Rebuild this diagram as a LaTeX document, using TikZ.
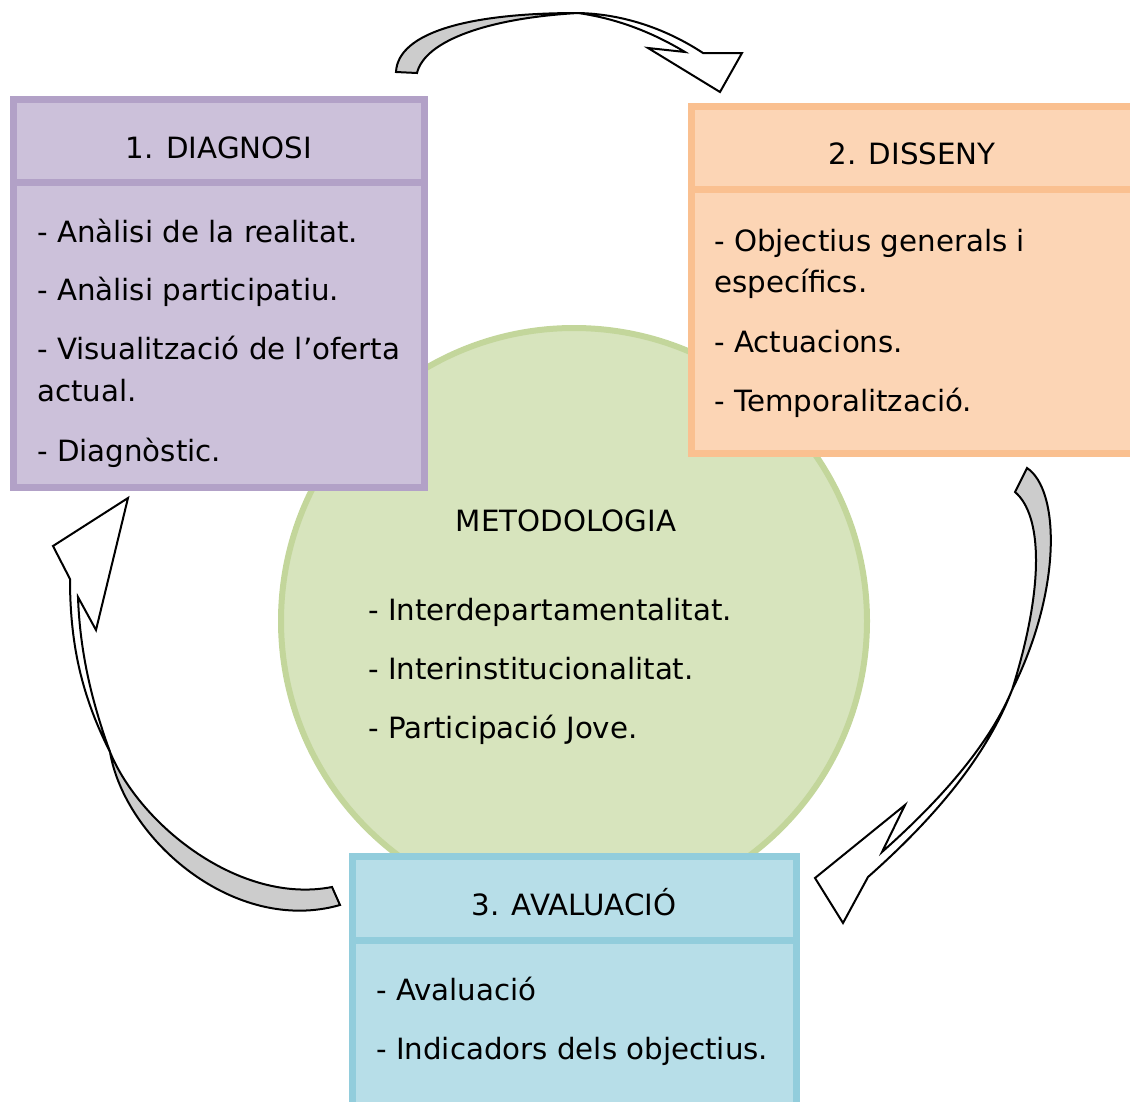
\documentclass[tikz,border=0pt]{standalone}
\usepackage{fontspec}
\setmainfont{DejaVu Sans}

\definecolor{lilaline}{HTML}{B2A1C7}
\definecolor{lilafill}{HTML}{CCC1DA}
\definecolor{taronjaline}{HTML}{FAC090}
\definecolor{taronjafill}{HTML}{FCD5B5}
\definecolor{blauline}{HTML}{92CDDC}
\definecolor{blaufill}{HTML}{B7DEE8}
\definecolor{verdline}{HTML}{C3D69B}
\definecolor{verdfill}{HTML}{D7E4BD}
\definecolor{fletxagris}{HTML}{CCCCCC}

\tikzset{
    capsa/.style={line width=7pt},
    titol/.style={anchor=base, inner sep=0pt, font=\fontsize{29.3}{35}\selectfont},
    punt/.style={anchor=base west, inner sep=0pt, font=\fontsize{29.3}{35}\selectfont},
    fletxa/.style={draw=black, line width=2pt, line join=miter},
}

\begin{document}
\begin{tikzpicture}[x=1pt,y=-1pt]
    \useasboundingbox (0,0) rectangle (1130,1101);

    % cercle central
    \draw [line width=6pt,draw=verdline,fill=verdfill] (574,621) circle (293);
    \node [titol] (metod) at (566,531) {METODOLOGIA};
    \foreach \yy/\txt [count=\i] in {620/{- Interdepartamentalitat.},
                                     679/{- Interinstitucionalitat.},
                                     738/{- Participació Jove.}} {
        \node [punt] (metod-\i) at (368,\yy) {\txt};
    }

    % 1. diagnosi
    \draw [capsa,draw=lilaline,fill=lilafill] (13.5,99.5) rectangle (424.5,182);
    \draw [capsa,draw=lilaline,fill=lilafill] (13.5,182) rectangle (424.5,487.5);
    \node [titol] (diag) at (219,158) {1. DIAGNOSI};
    \foreach \yy/\txt [count=\i] in {242/{- Anàlisi de la realitat.},
                                     300/{- Anàlisi participatiu.},
                                     359/{- Visualització de l’oferta},
                                     401/{actual.},
                                     461/{- Diagnòstic.}} {
        \node [punt] (diag-\i) at (37,\yy) {\txt};
    }

    % 2. disseny
    \draw [capsa,draw=taronjaline,fill=taronjafill] (691.5,106.5) rectangle (1140,189);
    \draw [capsa,draw=taronjaline,fill=taronjafill] (691.5,189) rectangle (1140,453.5);
    \node [titol] (diss) at (912,164) {2. DISSENY};
    \foreach \yy/\txt [count=\i] in {251/{- Objectius generals i},
                                     292/{específics.},
                                     352/{- Actuacions.},
                                     411/{- Temporalització.}} {
        \node [punt] (diss-\i) at (714,\yy) {\txt};
    }

    % 3. avaluacio
    \draw [capsa,draw=blauline,fill=blaufill] (352.5,856.5) rectangle (796.5,940);
    \draw [capsa,draw=blauline,fill=blaufill] (352.5,940) rectangle (796.5,1110);
    \node [titol] (aval) at (574,915) {3. AVALUACIÓ};
    \foreach \yy/\txt [count=\i] in {1000/{- Avaluació},
                                     1059/{- Indicadors dels objectius.}} {
        \node [punt] (aval-\i) at (376,\yy) {\txt};
    }

    % fletxa de dalt
    \coordinate (gir1) at (578,13);
    \draw [fletxa,fill=fletxagris] (396,72) .. controls (398,32) and (470,13) .. (gir1)
        .. controls (490,18) and (425,40) .. (417,73) -- cycle;
    \draw [fletxa,fill=white] (gir1) .. controls (625,14) and (668,30) .. (703,53)
        -- (742,53) -- (720,92) -- (648,48) -- (685,52)
        .. controls (655,34) and (620,19) .. (gir1) -- cycle;

    % fletxa de la dreta
    \coordinate (gir2) at (1012,690);
    \draw [fletxa,fill=fletxagris] (1027,468) .. controls (1060,490) and (1062,590) .. (gir2)
        .. controls (1045,585) and (1042,515) .. (1015,492) -- cycle;
    \draw [fletxa,fill=white] (gir2) .. controls (985,760) and (930,822) .. (868,877)
        -- (843,923) -- (815,878) -- (905,805) -- (882,852)
        .. controls (935,805) and (988,748) .. (gir2) -- cycle;

    % fletxa de l'esquerra
    \coordinate (gir3) at (110,752);
    \draw [fletxa,fill=fletxagris] (340,905) .. controls (235,935) and (125,840) .. (gir3)
        .. controls (140,825) and (240,905) .. (332,887) -- cycle;
    \draw [fletxa,fill=white] (gir3) .. controls (84,700) and (70,650) .. (70,579)
        -- (53,546) -- (128,498) -- (96,630) -- (78,597)
        .. controls (80,655) and (93,705) .. (gir3) -- cycle;
\end{tikzpicture}
\end{document}
